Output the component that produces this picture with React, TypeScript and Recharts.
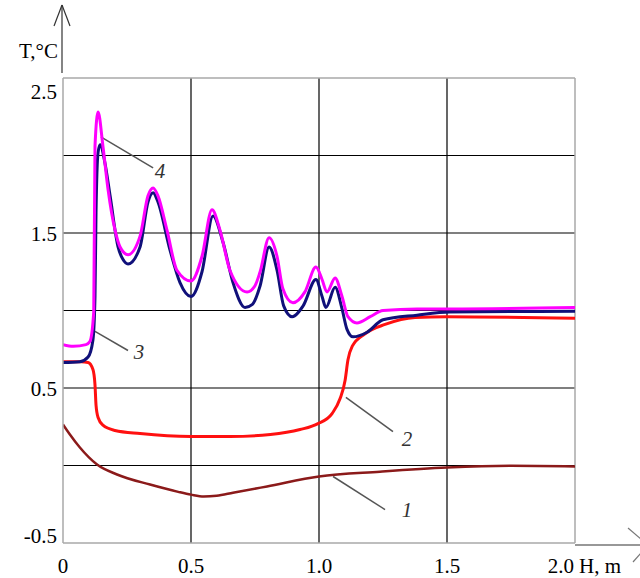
import React from 'react';
import { LineChart, Line, XAxis, YAxis, CartesianGrid, ReferenceLine, ReferenceDot } from 'recharts';

// H, m -> T, °C
const curve1 = [
  { h: 0, t: 0.265 }, { h: 0.027, t: 0.2 }, { h: 0.066, t: 0.116 }, { h: 0.133, t: 0.006 },
  { h: 0.211, t: -0.058 }, { h: 0.34, t: -0.123 }, { h: 0.45, t: -0.17 }, { h: 0.5, t: -0.188 },
  { h: 0.55, t: -0.2 }, { h: 0.6, t: -0.195 }, { h: 0.664, t: -0.176 }, { h: 0.797, t: -0.135 },
  { h: 1.0, t: -0.071 }, { h: 1.238, t: -0.04 }, { h: 1.5, t: -0.013 }, { h: 1.75, t: -0.002 },
  { h: 2.0, t: -0.006 },
];

const curve2 = [
  { h: 0, t: 0.67 }, { h: 0.07, t: 0.67 }, { h: 0.098, t: 0.665 }, { h: 0.117, t: 0.62 },
  { h: 0.125, t: 0.52 }, { h: 0.129, t: 0.39 }, { h: 0.137, t: 0.31 }, { h: 0.156, t: 0.26 },
  { h: 0.203, t: 0.226 }, { h: 0.301, t: 0.206 }, { h: 0.5, t: 0.187 }, { h: 0.652, t: 0.187 },
  { h: 0.81, t: 0.2 }, { h: 0.926, t: 0.232 }, { h: 0.996, t: 0.27 }, { h: 1.051, t: 0.335 },
  { h: 1.082, t: 0.43 }, { h: 1.102, t: 0.55 }, { h: 1.113, t: 0.68 }, { h: 1.13, t: 0.77 },
  { h: 1.18, t: 0.85 }, { h: 1.258, t: 0.91 }, { h: 1.375, t: 0.955 }, { h: 1.5, t: 0.96 },
  { h: 2.0, t: 0.95 },
];

const curve3 = [
  { h: 0, t: 0.665 }, { h: 0.066, t: 0.67 }, { h: 0.098, t: 0.7 }, { h: 0.117, t: 0.81 },
  { h: 0.125, t: 1.09 }, { h: 0.129, t: 1.63 }, { h: 0.137, t: 2.02 }, { h: 0.145, t: 2.07 },
  { h: 0.164, t: 1.95 }, { h: 0.184, t: 1.74 }, { h: 0.215, t: 1.41 }, { h: 0.234, t: 1.33 },
  { h: 0.254, t: 1.3 }, { h: 0.301, t: 1.41 }, { h: 0.332, t: 1.7 }, { h: 0.352, t: 1.76 },
  { h: 0.371, t: 1.7 }, { h: 0.418, t: 1.39 }, { h: 0.457, t: 1.18 }, { h: 0.5, t: 1.09 },
  { h: 0.543, t: 1.25 }, { h: 0.586, t: 1.61 }, { h: 0.625, t: 1.44 }, { h: 0.664, t: 1.18 },
  { h: 0.711, t: 1.02 }, { h: 0.74, t: 1.04 }, { h: 0.77, t: 1.16 }, { h: 0.805, t: 1.41 },
  { h: 0.836, t: 1.26 }, { h: 0.862, t: 1.03 }, { h: 0.895, t: 0.96 }, { h: 0.938, t: 1.03 },
  { h: 0.988, t: 1.2 }, { h: 1.012, t: 1.09 }, { h: 1.027, t: 1.02 }, { h: 1.063, t: 1.15 },
  { h: 1.09, t: 1.01 }, { h: 1.109, t: 0.88 }, { h: 1.133, t: 0.83 }, { h: 1.188, t: 0.86 },
  { h: 1.25, t: 0.94 }, { h: 1.383, t: 0.97 }, { h: 1.512, t: 0.99 }, { h: 2.0, t: 0.995 },
];

const curve4 = [
  { h: 0, t: 0.78 }, { h: 0.04, t: 0.77 }, { h: 0.09, t: 0.78 }, { h: 0.105, t: 0.8 },
  { h: 0.12, t: 0.99 }, { h: 0.125, t: 2.06 }, { h: 0.137, t: 2.28 }, { h: 0.156, t: 2.06 },
  { h: 0.176, t: 1.78 }, { h: 0.203, t: 1.52 }, { h: 0.223, t: 1.41 }, { h: 0.254, t: 1.36 },
  { h: 0.301, t: 1.48 }, { h: 0.332, t: 1.74 }, { h: 0.352, t: 1.79 }, { h: 0.371, t: 1.74 },
  { h: 0.406, t: 1.52 }, { h: 0.445, t: 1.26 }, { h: 0.5, t: 1.19 }, { h: 0.543, t: 1.35 },
  { h: 0.582, t: 1.65 }, { h: 0.613, t: 1.52 }, { h: 0.652, t: 1.26 }, { h: 0.719, t: 1.12 },
  { h: 0.75, t: 1.16 }, { h: 0.77, t: 1.25 }, { h: 0.805, t: 1.47 }, { h: 0.836, t: 1.35 },
  { h: 0.859, t: 1.14 }, { h: 0.898, t: 1.05 }, { h: 0.945, t: 1.12 }, { h: 0.988, t: 1.28 },
  { h: 1.012, t: 1.2 }, { h: 1.031, t: 1.12 }, { h: 1.063, t: 1.21 }, { h: 1.09, t: 1.09 },
  { h: 1.113, t: 0.96 }, { h: 1.148, t: 0.92 }, { h: 1.2, t: 0.96 }, { h: 1.25, t: 1.0 },
  { h: 1.383, t: 1.01 }, { h: 1.512, t: 1.01 }, { h: 2.0, t: 1.02 },
];

const xTicks = [0, 0.5, 1, 1.5, 2];
const yTicks = [-0.5, 0.5, 1.5, 2.5];
const xGrid = [0.5, 1, 1.5];
const yGrid = [0, 0.5, 1, 1.5, 2];

// curve number labels with their leader lines
const callouts = [
  { name: '4', from: { h: 0.148, t: 2.12 }, to: { h: 0.352, t: 1.92 }, at: { h: 0.379, t: 1.897 } },
  { name: '3', from: { h: 0.125, t: 0.865 }, to: { h: 0.254, t: 0.742 }, at: { h: 0.297, t: 0.735 } },
  { name: '2', from: { h: 1.105, t: 0.439 }, to: { h: 1.289, t: 0.219 }, at: { h: 1.344, t: 0.168 } },
  { name: '1', from: { h: 1.055, t: -0.071 }, to: { h: 1.258, t: -0.284 }, at: { h: 1.344, t: -0.284 } },
];

const FONT = 'Liberation Serif, DejaVu Serif, serif';
const textStyle = { fontFamily: FONT, fontSize: 21 };

const XTick = ({ x, payload }: any) => {
  const v = payload.value;
  const last = v === 2;
  return (
    <text x={last ? x - 1 : x} y={573} textAnchor={last ? 'end' : 'middle'} style={textStyle} fill="#000">
      {v === 0 ? '0' : v.toFixed(1)}
    </text>
  );
};

const YTick = ({ y, payload }: any) => {
  const v = payload.value;
  const dy = v === 2.5 ? 21 : v === -0.5 ? 0 : 8;
  return (
    <text x={57} y={y + dy} textAnchor="end" style={textStyle} fill="#000">
      {v.toFixed(1)}
    </text>
  );
};

export default function App() {
  return (
    <div style={{ position: 'absolute', left: 0, top: 0, width: 640, height: 578, background: '#fff', overflow: 'hidden' }}>
      <LineChart width={640} height={578} margin={{ top: 78, right: 65, left: 0, bottom: 0 }}>
        <CartesianGrid stroke="#000" strokeWidth={1.2} horizontalValues={yGrid} verticalValues={xGrid} />
        <XAxis
          type="number"
          dataKey="h"
          domain={[0, 2]}
          ticks={xTicks}
          height={35}
          axisLine={{ stroke: '#a8a8a8', strokeWidth: 1.5 }}
          tickLine={false}
          tick={<XTick />}
          allowDataOverflow
        />
        <YAxis
          type="number"
          dataKey="t"
          domain={[-0.5, 2.5]}
          ticks={yTicks}
          width={63}
          axisLine={{ stroke: '#a8a8a8', strokeWidth: 1.5 }}
          tickLine={false}
          tick={<YTick />}
          allowDataOverflow
        />
        <ReferenceLine y={2.5} stroke="#a8a8a8" strokeWidth={1.5} />
        <ReferenceLine x={2} stroke="#a8a8a8" strokeWidth={1.5} />
        {callouts.map((c) => (
          <ReferenceLine
            key={'l' + c.name}
            segment={[{ x: c.from.h, y: c.from.t }, { x: c.to.h, y: c.to.t }]}
            stroke="#555"
            strokeWidth={1.5}
          />
        ))}
        <Line data={curve1} dataKey="t" type="monotone" stroke="#8b1a1a" strokeWidth={2.5} dot={false} isAnimationActive={false} />
        <Line data={curve2} dataKey="t" type="monotone" stroke="#ff1010" strokeWidth={3} dot={false} isAnimationActive={false} />
        <Line data={curve3} dataKey="t" type="monotone" stroke="#10107a" strokeWidth={3} dot={false} isAnimationActive={false} />
        <Line data={curve4} dataKey="t" type="monotone" stroke="#ff00ff" strokeWidth={3} dot={false} isAnimationActive={false} />
        {callouts.map((c) => (
          <ReferenceDot
            key={'n' + c.name}
            x={c.at.h}
            y={c.at.t}
            r={1}
            shape={(p: any) => (
              <text
                x={p.cx}
                y={p.cy + 7}
                textAnchor="middle"
                style={{ ...textStyle, fontStyle: 'italic' }}
                fill="#333"
              >
                {c.name}
              </text>
            )}
          />
        ))}
      </LineChart>
      <svg width={640} height={578} style={{ position: 'absolute', left: 0, top: 0, pointerEvents: 'none' }}>
        <line x1={62} y1={73} x2={62} y2={5} stroke="#333" strokeWidth={1.2} />
        <line x1={62} y1={5} x2={54} y2={26} stroke="#333" strokeWidth={1.2} />
        <line x1={62} y1={5} x2={70} y2={26} stroke="#333" strokeWidth={1.2} />
        <line x1={575} y1={545} x2={640} y2={545} stroke="#333" strokeWidth={1.2} />
        <line x1={628} y1={528} x2={648} y2={545} stroke="#777" strokeWidth={1.2} />
        <line x1={633} y1={562} x2={648} y2={545} stroke="#777" strokeWidth={1.2} />
        <text x={58} y={58} textAnchor="end" style={textStyle} fill="#000">T,°C</text>
        <text x={579} y={573} style={textStyle} fill="#000">H, m</text>
      </svg>
    </div>
  );
}
